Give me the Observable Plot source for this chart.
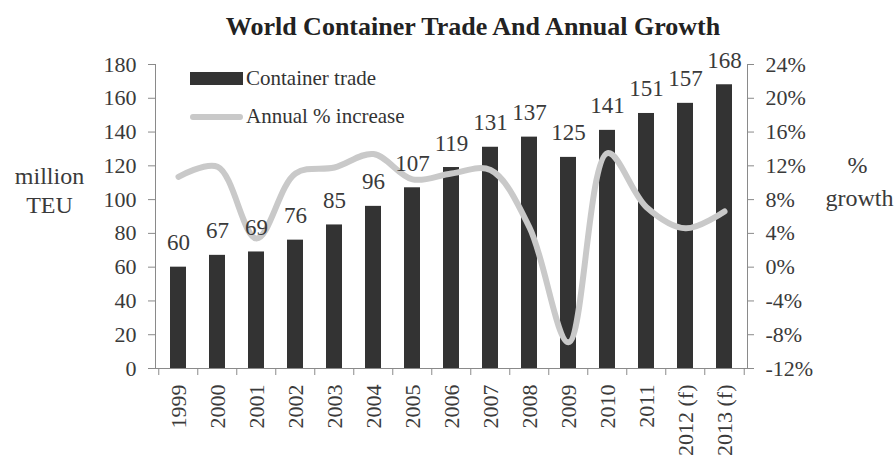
<!DOCTYPE html>
<html>
<head>
<meta charset="utf-8">
<script src="https://cdn.jsdelivr.net/npm/d3@7"></script>
<script src="https://cdn.jsdelivr.net/npm/@observablehq/plot@0.6"></script>
<style>
  html, body { margin: 0; padding: 0; background: #fff; }
  #wrap { position: relative; width: 896px; height: 466px; font-family: "Liberation Serif", serif; }
  #title { height: 40px; line-height: 54px; text-align: center; font-weight: bold; font-size: 26px; color: #222; padding-left: 50px; box-sizing: border-box; white-space: nowrap; }
  .leg { position: absolute; left: 190px; display: flex; align-items: center; font-size: 21px; color: #333; }
  .sw-bar { width: 53px; height: 13px; background: #333; margin-right: 3px; }
  .sw-line { width: 53px; height: 6px; background: #c9c9c9; border-radius: 3px; margin-right: 3px; }
</style>
</head>
<body>
<div id="wrap">
  <div id="title">World Container Trade And Annual Growth</div>
  <div id="chart"></div>
  <div class="leg" style="top:66px;"><div class="sw-bar"></div><span>Container trade</span></div>
  <div class="leg" style="top:104px;"><div class="sw-line"></div><span>Annual % increase</span></div>
</div>
<script>
const years = ["1999","2000","2001","2002","2003","2004","2005","2006","2007","2008","2009","2010","2011","2012 (f)","2013 (f)"];
const teu = [60,67,69,76,85,96,107,119,131,137,125,141,151,157,168];
const growth = [10.7,11.9,3.4,11.1,11.8,13.4,10.4,11.1,11.5,4.7,-8.9,13.5,7.1,4.6,6.6];
const leftTicks = [0,20,40,60,80,100,120,140,160,180];
const rightTickLabels = ["-12%","-8%","-4%","0%","4%","8%","12%","16%","20%","24%"];

const data = years.map((year, i) => ({year, teu: teu[i], growth: growth[i]}));
// growth axis: -12%..24% mapped onto 0..180
const g2y = g => (g + 12) * 5;

const W = 896, H = 426, ML = 155, MR = 149, MT = 24, MB = 98;
const step = (W - ML - MR) / years.length;
const axisStroke = "#8a8a8a";
const txt = "#3a3a3a";

const chart = Plot.plot({
  width: W, height: H,
  marginLeft: ML, marginRight: MR, marginTop: MT, marginBottom: MB,
  style: {fontFamily: "Liberation Serif, serif", fontSize: "22px", color: txt, background: "transparent", overflow: "visible"},
  x: {domain: years, paddingInner: 0.6, paddingOuter: 0.3, label: null},
  y: {domain: [0, 180], label: null},
  marks: [
    Plot.barY(data, {x: "year", y: "teu", fill: "#333"}),
    Plot.line(data, {x: "year", y: d => g2y(d.growth), stroke: "#c9c9c9", strokeWidth: 6, curve: "catmull-rom", strokeLinecap: "round"}),
    Plot.text(data, {x: "year", y: "teu", text: d => String(d.teu), lineAnchor: "bottom", dy: -17, fontSize: 23, fill: txt}),
    Plot.frame({anchor: "left", stroke: axisStroke}),
    Plot.frame({anchor: "right", stroke: axisStroke}),
    Plot.frame({anchor: "bottom", stroke: axisStroke}),
    Plot.axisY({anchor: "left", ticks: leftTicks, tickSize: 7, tickPadding: 12, stroke: axisStroke, fill: txt, tickFormat: d => String(d), fontSize: 22, label: null}),
    Plot.axisY({anchor: "right", ticks: leftTicks, tickSize: 6, tickPadding: 12, stroke: axisStroke, fill: txt, tickFormat: d => rightTickLabels[leftTicks.indexOf(d)], fontSize: 22, label: null}),
    Plot.axisX({anchor: "bottom", tickSize: 0, tickPadding: 16, tickRotate: -90, fontSize: 22, fill: txt, label: null}),
    Plot.axisX({anchor: "bottom", tickSize: 7, tickFormat: () => "", stroke: axisStroke, dx: -step / 2, label: null}),
    Plot.axisX({anchor: "bottom", ticks: [years[years.length - 1]], tickSize: 7, tickFormat: () => "", stroke: axisStroke, dx: step / 2, label: null}),
    Plot.text(["million"], {frameAnchor: "left", text: d => d, dx: -106, dy: -33, lineAnchor: "bottom", textAnchor: "middle", fontSize: 24, fill: txt}),
    Plot.text(["TEU"], {frameAnchor: "left", text: d => d, dx: -106, dy: -4, lineAnchor: "bottom", textAnchor: "middle", fontSize: 24, fill: txt}),
    Plot.text(["%"], {frameAnchor: "right", text: d => d, dx: 110, dy: -44, lineAnchor: "bottom", textAnchor: "middle", fontSize: 24, fill: txt}),
    Plot.text(["growth"], {frameAnchor: "right", text: d => d, dx: 112, dy: -11, lineAnchor: "bottom", textAnchor: "middle", fontSize: 24, fill: txt})
  ]
});
document.getElementById("chart").appendChild(chart);
</script>
</body>
</html>
